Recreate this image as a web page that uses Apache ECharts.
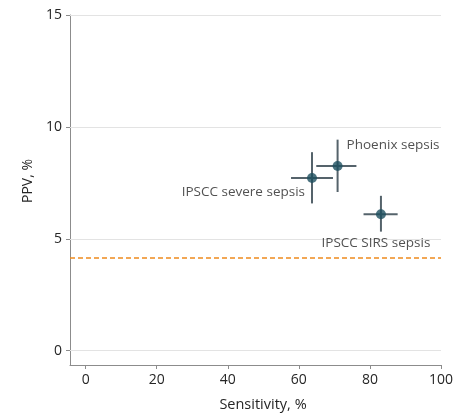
<!DOCTYPE html>
<html>
<head>
<meta charset="utf-8">
<script src="https://cdn.jsdelivr.net/npm/echarts@6/dist/echarts.min.js"></script>
<style>
  html, body { margin: 0; padding: 0; background: #fff; }
  #chart { width: 468px; height: 417px; }
</style>
</head>
<body>
<div id="chart"></div>
<script>
// 数据
const pointNames = ['Phoenix sepsis', 'IPSCC severe sepsis', 'IPSCC SIRS sepsis'];
const sensitivity = [70.9, 63.7, 83.1];
const sensLow = [64.9, 57.8, 78.2];
const sensHigh = [76.2, 69.6, 87.8];
const ppv = [8.25, 7.72, 6.1];
const ppvLow = [7.09, 6.58, 5.32];
const ppvHigh = [9.43, 8.87, 6.92];
const baselinePPV = 4.14;
const xTicks = [0, 20, 40, 60, 80, 100];
const yTicks = [0, 5, 10, 15];

const font = '"Open Sans", sans-serif';
const textColor = '#262626';
const axisColor = '#8c8c8c';

// 标签位置
const labelPlace = [
  { position: 'right', distance: 4, offset: [0, -21] },
  { position: 'left', distance: 2, offset: [0, 14] },
  { position: 'bottom', distance: 17, offset: [-5, 0] }
];

const myChart = echarts.init(document.getElementById('chart'), null, { renderer: 'canvas' });

const option = {
  animation: false,
  grid: { left: 70, right: 27, top: 15, bottom: 49, containLabel: false },
  xAxis: {
    type: 'value',
    min: -4.4,
    max: 100,
    name: 'Sensitivity, %',
    nameLocation: 'middle',
    nameGap: 32,
    nameTextStyle: { color: textColor, fontSize: 14.5, fontFamily: font, padding: [0, 0, 0, 15] },
    axisLine: { show: true, onZero: false, lineStyle: { color: axisColor, width: 1 } },
    axisTick: { show: true, length: 4, customValues: xTicks, lineStyle: { color: axisColor } },
    axisLabel: { customValues: xTicks, color: textColor, fontSize: 14, fontFamily: font, margin: 8 },
    splitLine: { show: false }
  },
  yAxis: {
    type: 'value',
    min: -0.64,
    max: 15,
    name: 'PPV, %',
    nameLocation: 'middle',
    nameGap: 34,
    nameTextStyle: { color: textColor, fontSize: 14, fontFamily: font, padding: [0, 0, 0, 18] },
    axisLine: { show: true, onZero: false, lineStyle: { color: axisColor, width: 1 } },
    axisTick: { show: true, length: 4, customValues: yTicks, lineStyle: { color: axisColor } },
    axisLabel: { customValues: yTicks, color: textColor, fontSize: 14, fontFamily: font, margin: 8 },
    splitLine: { show: false }
  },
  series: [
    {
      // 网格线
      type: 'line',
      data: [],
      silent: true,
      markLine: {
        silent: true,
        symbol: 'none',
        label: { show: false },
        lineStyle: { color: '#e3e3e3', width: 1, type: 'solid' },
        data: yTicks.map(v => ({ yAxis: v }))
      }
    },
    {
      // 误差线
      type: 'custom',
      silent: true,
      data: sensitivity.map((x, i) => [x, ppv[i], sensLow[i], sensHigh[i], ppvLow[i], ppvHigh[i]]),
      renderItem: function (params, api) {
        const c = api.coord([api.value(0), api.value(1)]);
        const xl = api.coord([api.value(2), api.value(1)]);
        const xh = api.coord([api.value(3), api.value(1)]);
        const yl = api.coord([api.value(0), api.value(4)]);
        const yh = api.coord([api.value(0), api.value(5)]);
        const style = { stroke: '#55636b', lineWidth: 2 };
        return {
          type: 'group',
          children: [
            { type: 'line', shape: { x1: xl[0], y1: c[1], x2: xh[0], y2: c[1] }, style: style },
            { type: 'line', shape: { x1: c[0], y1: yl[1], x2: c[0], y2: yh[1] }, style: style }
          ]
        };
      },
      z: 3
    },
    {
      type: 'scatter',
      symbol: 'circle',
      symbolSize: 10,
      itemStyle: { color: '#1d4f5f' },
      data: sensitivity.map((x, i) => ({
        name: pointNames[i],
        value: [x, ppv[i]],
        label: Object.assign({ show: true }, labelPlace[i])
      })),
      label: {
        show: true,
        formatter: '{b}',
        color: textColor,
        fontSize: 13.5,
        fontFamily: font
      },
      markLine: {
        silent: true,
        symbol: 'none',
        label: { show: false },
        lineStyle: { color: '#ee8a1e', width: 1.5, type: [5, 3] },
        data: [{ yAxis: baselinePPV }]
      },
      z: 5
    }
  ]
};

myChart.setOption(option);
window.addEventListener('resize', () => {
  myChart.resize();
});
</script>
</body>
</html>
